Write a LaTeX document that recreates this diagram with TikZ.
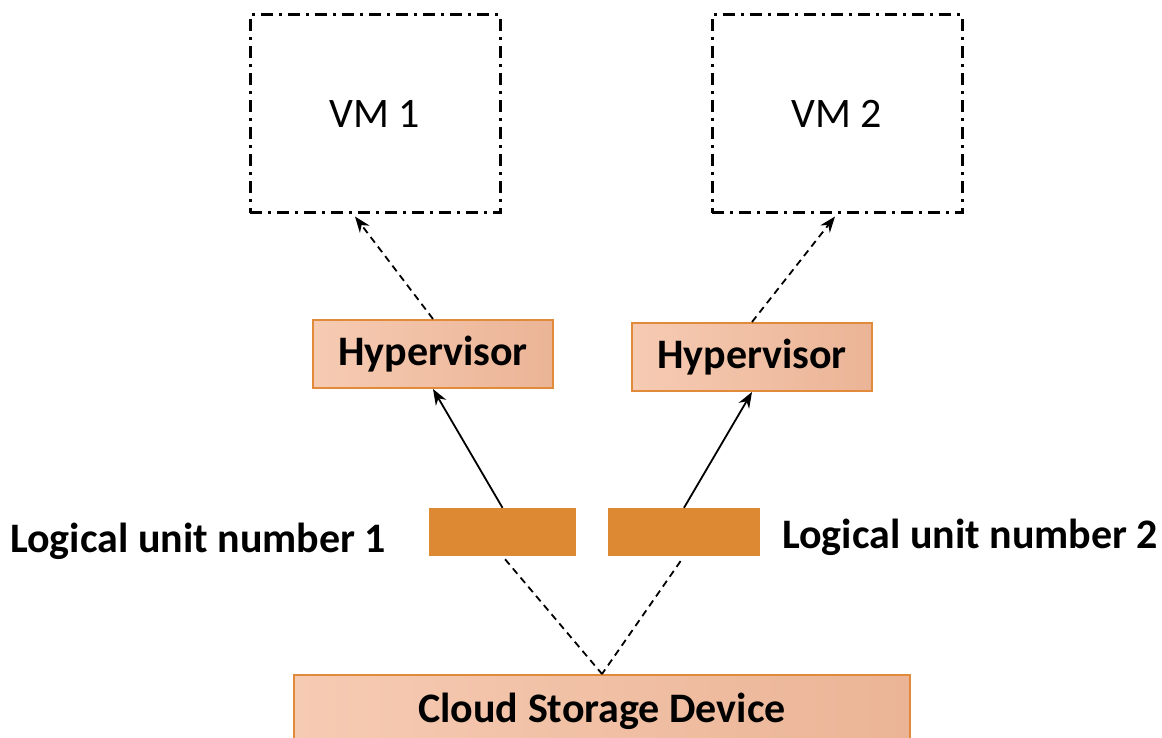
\documentclass[tikz,border=0pt]{standalone}
\usepackage{fontspec}
\setmainfont{Carlito}
\usetikzlibrary{arrows.meta,calc}
\definecolor{peachL}{HTML}{F6CBB3}
\definecolor{peachR}{HTML}{EBB496}
\definecolor{orangeB}{HTML}{E08A3A}
\definecolor{lunfill}{HTML}{DD8833}
\tikzset{
  vmbox/.style={draw=black, line width=3pt, dash pattern=on 12pt off 6pt on 3pt off 6pt, minimum width=250pt, minimum height=198pt, inner sep=0pt, font=\fontsize{42}{50}\selectfont},
  hypbox/.style={draw=orangeB, line width=2pt, left color=peachL, right color=peachR, minimum width=240pt, minimum height=68pt, inner sep=0pt, font=\bfseries\fontsize{42}{50}\selectfont},
  lunbox/.style={fill=lunfill, draw=none, minimum height=48pt, inner sep=0pt},
  cloudbox/.style={draw=orangeB, line width=2pt, left color=peachL, right color=peachR, minimum width=616pt, minimum height=72pt, inner sep=0pt},
  lbl/.style={font=\bfseries\fontsize{42}{50}\selectfont, inner sep=0pt},
  dashconn/.style={line width=1.8pt, dash pattern=on 7pt off 5pt},
  tip/.style={-{Stealth[length=16pt,width=12pt]}},
}
\begin{document}
\begin{tikzpicture}[x=1pt,y=-1pt]
\useasboundingbox (0,0) rectangle (1162,738);
\begin{scope}
\clip (0,0) rectangle (1162,738);
\node[cloudbox, anchor=north] (cloud) at (602,674) {};
\node[lbl] (cloudlbl) at (602,711) {Cloud Storage Device};
\end{scope}
\node[vmbox] (vm1) at (375,114) {VM 1};
\node[vmbox] (vm2) at (837,114) {VM 2};
\node[hypbox] (hyp1) at (433,354) {Hypervisor};
\node[hypbox] (hyp2) at (752,357) {Hypervisor};
\node[lunbox, minimum width=147pt] (lun1) at (502.5,532) {};
\node[lunbox, minimum width=152pt] (lun2) at (684,532) {};
\node[lbl, anchor=west] (lbl1) at (10,541) {Logical unit number 1};
\node[lbl, anchor=west] (lbl2) at (782,537) {Logical unit number 2};
% connectors
\draw[dashconn, tip] (hyp1.north) -- ([xshift=-20pt,yshift=-2pt]vm1.south);
\draw[dashconn, tip] (hyp2.north) -- ([xshift=-2pt,yshift=-2pt]vm2.south);
\draw[line width=1.8pt, tip] (lun1.north) -- (hyp1.south);
\draw[line width=1.8pt, tip] (lun2.north) -- (hyp2.south);
\draw[dashconn, shorten <=4pt] (lun1.south) -- (cloud.north);
\draw[dashconn, shorten <=6pt] (lun2.south) -- (cloud.north);
\end{tikzpicture}
\end{document}
